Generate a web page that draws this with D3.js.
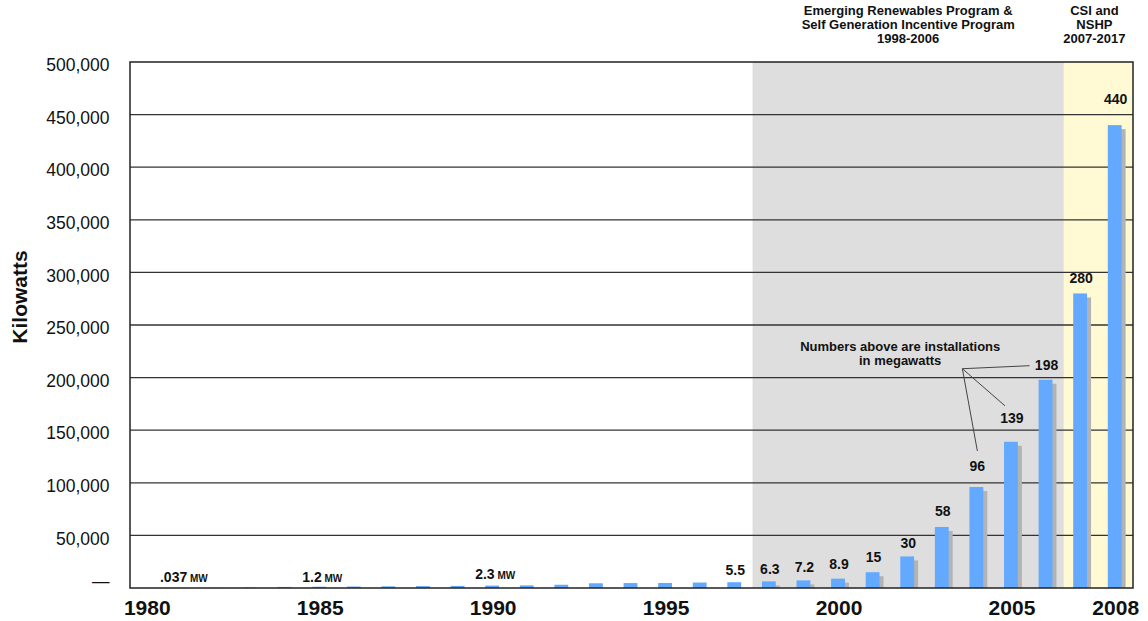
<!DOCTYPE html>
<html>
<head>
<meta charset="utf-8">
<script src="https://cdn.jsdelivr.net/npm/d3@7"></script>
<style>
  body { margin: 0; background: #fff; }
  text { font-family: "Liberation Sans", Arial, sans-serif; fill: #111; }
</style>
</head>
<body>
<script>
// installed capacity by year, in kilowatts
var years = ["1980","1981","1982","1983","1984","1985","1986","1987","1988","1989",
             "1990","1991","1992","1993","1994","1995","1996","1997","1998","1999",
             "2000","2001","2002","2003","2004","2005","2006","2007","2008"];
var kilowatts = [0, 37, 150, 400, 1000, 1200, 1400, 1600, 1800, 2000,
                 2300, 2500, 3100, 4500, 4700, 4800, 5200, 5500, 6300, 7200,
                 8900, 15000, 30000, 58000, 96000, 139000, 198000, 280000, 440000];

// labels printed above the bars (megawatts)
var labelYears = ["1981","1985","1990","1997","1998","1999","2000","2001","2002","2003","2004","2005","2006","2007","2008"];
var labelTexts = [".037","1.2","2.3","5.5","6.3","7.2","8.9","15","30","58","96","139","198","280","440"];
var labelUnits = ["MW","MW","MW","","","","","","","","","","","",""];

var yTicks = [0, 50000, 100000, 150000, 200000, 250000, 300000, 350000, 400000, 450000, 500000];
var xTicks = ["1980","1985","1990","1995","2000","2005","2008"];

// program periods shaded behind the bars
var programs = [
  {from: "1998", to: "2006", fill: "#dedede", lines: ["Emerging Renewables Program &", "Self Generation Incentive Program", "1998-2006"]},
  {from: "2007", to: "2008", fill: "#fffad3", lines: ["CSI and", "NSHP", "2007-2017"]}
];
var noteLines = ["Numbers above are installations", "in megawatts"];
var noteTargets = ["2004", "2005", "2006"];

// layout
var width = 1148, height = 621;
var margin = {left: 130, right: 15, top: 62, bottom: 33};
var labelLift = [6,5,7,7,7,8,10,10,8,11,16,19,10,10,21];

var svg = d3.select("body").append("svg")
            .attr("width", width).attr("height", height);

var x = d3.scaleBand()
          .domain(years)
          .range([margin.left, width - margin.right])
          .paddingInner(0.6)
          .paddingOuter(0.3);

var y = d3.scaleLinear()
          .domain([0, 500000])
          .range([height - margin.bottom, margin.top]);

var gap = (x.step() - x.bandwidth()) / 2;
function bandLeft(yr) { return x(yr) - gap; }
function bandCenter(yr) { return x(yr) + x.bandwidth() / 2; }

// shaded program regions
programs.forEach(function(p, i) {
  var x0 = bandLeft(p.from);
  var x1 = (i == programs.length - 1) ? x.range()[1] : bandLeft(p.to) + x.step();
  svg.append("rect")
     .attr("x", x0).attr("y", y(500000))
     .attr("width", x1 - x0).attr("height", y(0) - y(500000))
     .attr("fill", p.fill);
  var cx = (i == 0) ? (x0 + x1) / 2 : (x0 + x1) / 2 - 4;
  svg.append("text")
     .attr("text-anchor", "middle")
     .style("font-size", "13px").style("font-weight", "bold")
     .selectAll("tspan").data(p.lines).enter().append("tspan")
     .attr("x", cx)
     .attr("y", function(d, j) { return 14.5 + j * 14; })
     .text(function(d) { return d; });
});

// gridlines
svg.append("g").selectAll("line")
   .data(yTicks.filter(function(d) { return d > 0 && d < 500000; }))
   .enter().append("line")
   .attr("x1", margin.left).attr("x2", width - margin.right)
   .attr("y1", function(d) { return y(d); }).attr("y2", function(d) { return y(d); })
   .attr("stroke", "#333").attr("stroke-width", 1.3);

var data = years.map(function(yr, i) { return {year: yr, value: kilowatts[i]}; });

// shadows only show inside program periods
svg.append("g").selectAll("rect")
   .data(data.filter(function(d) { return +d.year >= 1998; }))
   .enter().append("rect")
   .attr("x", function(d) { return x(d.year) + 3; })
   .attr("y", function(d) { return Math.min(y(d.value) + 4, y(0)); })
   .attr("width", x.bandwidth())
   .attr("height", function(d) { return Math.max(0, y(0) - y(d.value) - 4); })
   .attr("fill", "#b3b3b3");

svg.append("g").selectAll("rect")
   .data(data)
   .enter().append("rect")
   .attr("x", function(d) { return x(d.year) - 1; })
   .attr("y", function(d) { return y(d.value); })
   .attr("width", x.bandwidth())
   .attr("height", function(d) { return y(0) - y(d.value); })
   .attr("fill", "#62a9ff");

// value labels
var labelPos = {};
labelYears.forEach(function(yr, i) {
  var v = kilowatts[years.indexOf(yr)];
  var ly = y(v) - labelLift[i];
  var cx = bandCenter(yr) + (labelUnits[i] ? 2 : 0);
  labelPos[yr] = {x: cx, y: ly};
  var t = svg.append("text")
     .attr("x", cx).attr("y", ly)
     .attr("text-anchor", "middle")
     .style("font-size", "14px").style("font-weight", "bold");
  t.append("tspan").text(labelTexts[i]);
  if (labelUnits[i]) {
    t.append("tspan").style("font-size", "10px").text(" " + labelUnits[i]);
  }
});

// note and leader lines
svg.append("text")
   .attr("text-anchor", "middle")
   .style("font-size", "13px").style("font-weight", "bold")
   .selectAll("tspan").data(noteLines).enter().append("tspan")
   .attr("x", bandCenter("2002") - 8)
   .attr("y", function(d, j) { return labelPos["2006"].y - 19 + j * 14; })
   .text(function(d) { return d; });

var origin = [bandCenter("2004") - 15, labelPos["2006"].y - 1];
var ends = [
  [labelPos["2004"].x, labelPos["2004"].y - 20],
  [labelPos["2005"].x - 7, labelPos["2005"].y - 17],
  [labelPos["2006"].x - 17, labelPos["2006"].y - 4]
];
svg.append("g").selectAll("line")
   .data(noteTargets.map(function(d, i) { return ends[i]; }))
   .enter().append("line")
   .attr("x1", origin[0]).attr("y1", origin[1])
   .attr("x2", function(d) { return d[0]; }).attr("y2", function(d) { return d[1]; })
   .attr("stroke", "#444").attr("stroke-width", 1);

// frame
svg.append("rect")
   .attr("x", margin.left).attr("y", y(500000))
   .attr("width", x.range()[1] - margin.left).attr("height", y(0) - y(500000))
   .attr("fill", "none").attr("stroke", "#222").attr("stroke-width", 1.5);

// axes
var yAxis = d3.axisLeft(y).tickValues(yTicks).tickSize(0).tickPadding(20.5)
              .tickFormat(function(d) { return d == 0 ? "\u2014" : d3.format(",")(d); });
var gy = svg.append("g").attr("transform", "translate(" + margin.left + ",0)").call(yAxis);
gy.select(".domain").remove();
gy.selectAll("text")
  .style("font-family", "'Liberation Sans', Arial, sans-serif")
  .style("font-size", "17.5px").attr("fill", "#111")
  .attr("dy", function(d) { return d == 0 ? "-0.07em" : "0.5em"; });
gy.selectAll(".tick").filter(function(d) { return d == 0; }).select("text").attr("fill", "#555");

var xAxis = d3.axisBottom(x).tickValues(xTicks).tickSize(0).tickPadding(12);
var gx = svg.append("g").attr("transform", "translate(0," + y(0) + ")").call(xAxis);
gx.select(".domain").remove();
gx.selectAll("text")
  .style("font-family", "'Liberation Sans', Arial, sans-serif")
  .style("font-size", "21px").style("font-weight", "bold").attr("fill", "#111");

svg.append("text")
   .attr("transform", "translate(27,297) rotate(-90)")
   .attr("text-anchor", "middle")
   .style("font-size", "21px").style("font-weight", "bold")
   .text("Kilowatts");
</script>
</body>
</html>
